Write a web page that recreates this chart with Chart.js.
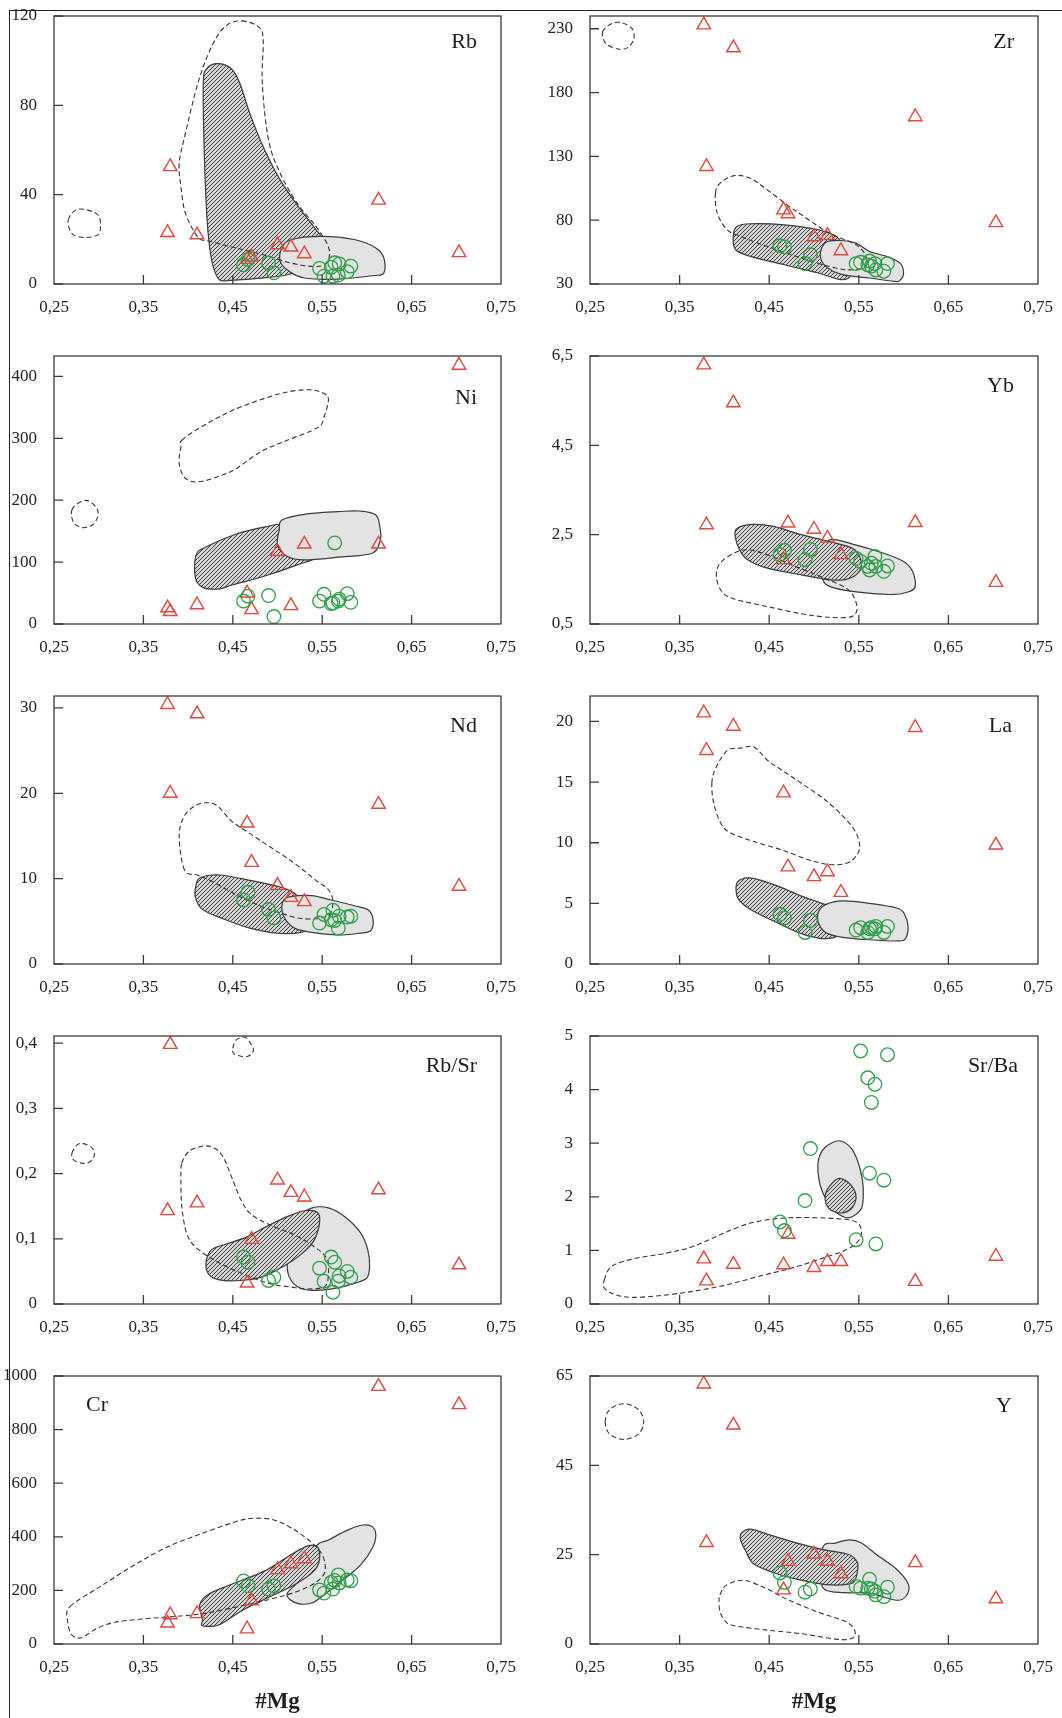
<!DOCTYPE html>
<html>
<head>
<meta charset="utf-8">
<script src="https://cdn.jsdelivr.net/npm/chart.js@4.4.1/dist/chart.umd.min.js"></script>
<style>
  html, body { margin: 0; padding: 0; background: #fff; }
  body { width: 1062px; height: 1718px; position: relative; overflow: hidden; }
  .rule-top { position: absolute; left: 9px; top: 10px; width: 1053px; height: 1px; background: #222; }
  .rule-left { position: absolute; left: 9px; top: 10px; width: 1px; height: 1708px; background: #222; }
  canvas { position: absolute; }
</style>
</head>
<body>
<div class="rule-top"></div>
<div class="rule-left"></div>
<script>
// #Mg axis, shared by every panel
const mgTicks = [0.25, 0.35, 0.45, 0.55, 0.65, 0.75];
const mgTickLabels = ['0,25', '0,35', '0,45', '0,55', '0,65', '0,75'];
const mgRed = [0.377, 0.380, 0.410, 0.466, 0.471, 0.500, 0.515, 0.530, 0.613, 0.703];
const mgGreen = [0.462, 0.467, 0.490, 0.496, 0.547, 0.552, 0.560, 0.562, 0.564, 0.568, 0.569, 0.578, 0.582];

// Rb
const rbTicks = [0, 40, 80, 120];
const rbTickLabels = ['0', '40', '80', '120'];
const rbRed = [23, 52.5, 22, 11, 12, 17.5, 16.5, 13.5, 37.5, 14];
const rbGreen = [8.6, 11, 9.4, 5, 7, 3.5, 7.5, 3.5, 9.5, 4, 9, 5.5, 8];
const rbDashed = [[0.460,117.8],[0.479,115.1],[0.484,109.1],[0.483,89.8],[0.490,64.4],[0.503,49.6],[0.522,36.2],[0.543,25.8],[0.556,17.6],[0.558,12.4],[0.553,8.6],[0.538,7.9],[0.515,9.4],[0.484,13.1],[0.454,16.1],[0.424,19.1],[0.411,21.0],[0.397,31.7],[0.392,43.6],[0.390,54.0],[0.397,67.5],[0.412,91.3],[0.428,107.7],[0.443,115.8]];
const rbSmall = [[0.266,28.7],[0.272,32.5],[0.283,33.5],[0.299,31.0],[0.302,25.8],[0.299,22.0],[0.285,20.8],[0.272,22.0],[0.267,25.0]];
const rbHatch = [[0.433,98.7],[0.448,96.5],[0.458,89.8],[0.469,76.4],[0.484,61.5],[0.503,46.6],[0.526,33.2],[0.543,24.3],[0.547,20.5],[0.530,9.4],[0.515,4.6],[0.484,2.7],[0.447,1.6],[0.435,1.9],[0.428,7.9],[0.424,16.8],[0.421,30.2],[0.418,60.0],[0.417,89.8],[0.421,96.5]];
const rbGray = [[0.515,19.8],[0.549,21.3],[0.587,19.8],[0.610,16.1],[0.619,11.6],[0.619,4.9],[0.606,3.7],[0.568,2.2],[0.530,2.7],[0.513,5.7],[0.503,10.1],[0.505,16.1]];

// Zr
const zrTicks = [30, 80, 130, 180, 230];
const zrTickLabels = ['30', '80', '130', '180', '230'];
const zrRed = [233, 122, 215, 88, 85, 67, 68, 56, 161, 78];
const zrGreen = [60, 59, 46, 53, 46, 47, 45, 48, 44, 46, 41, 40, 46];
const zrDashed = [[0.390,101.1],[0.395,108.9],[0.411,114.9],[0.429,112.8],[0.448,103.7],[0.475,89.4],[0.486,84.2],[0.517,69.9],[0.547,60.7],[0.558,51.6],[0.557,43.8],[0.543,41.2],[0.524,42.5],[0.486,50.3],[0.448,59.4],[0.418,67.3],[0.403,72.5],[0.392,85.5]];
const zrSmall = [[0.264,227.5],[0.274,234.0],[0.285,234.8],[0.297,230.1],[0.299,222.3],[0.293,215.7],[0.283,213.9],[0.268,218.3]];
const zrHatch = [[0.414,75.1],[0.429,77.2],[0.467,76.4],[0.505,72.5],[0.526,66.7],[0.536,54.2],[0.541,37.3],[0.530,33.4],[0.505,38.6],[0.467,45.1],[0.429,51.6],[0.412,57.4],[0.410,68.6]];
const zrGray = [[0.513,62.6],[0.530,64.1],[0.547,62.0],[0.562,55.5],[0.581,51.6],[0.596,46.4],[0.600,38.6],[0.596,32.9],[0.589,32.1],[0.562,34.7],[0.532,37.3],[0.513,43.8],[0.507,52.9]];

// Ni
const niTicks = [0, 100, 200, 300, 400];
const niTickLabels = ['0', '100', '200', '300', '400'];
const niRed = [26, 20, 31, 50, 23, 117, 29.5, 129, 129, 418];
const niGreen = [37, 45, 46, 12, 37, 48, 33, 34, 131, 37, 40, 49, 35];
const niDashed = [[0.393,296.9],[0.416,319.5],[0.454,347.9],[0.503,372.1],[0.534,378.5],[0.551,373.2],[0.557,362.4],[0.552,334.5],[0.545,317.3],[0.511,296.9],[0.481,278.1],[0.454,251.3],[0.435,238.9],[0.412,229.8],[0.397,235.2],[0.390,259.3],[0.392,286.2]];
const niSmall = [[0.270,184.2],[0.280,197.6],[0.289,198.7],[0.298,186.8],[0.299,173.4],[0.293,160.0],[0.282,155.7],[0.272,163.8]];
const niHatch = [[0.409,111.7],[0.421,125.1],[0.454,145.5],[0.488,157.3],[0.507,160.0],[0.530,135.8],[0.543,109.0],[0.522,95.6],[0.484,76.8],[0.450,63.4],[0.433,56.4],[0.416,59.6],[0.408,75.7]];
const niGray = [[0.505,168.1],[0.530,177.2],[0.568,181.5],[0.591,182.6],[0.610,176.1],[0.615,151.9],[0.615,135.8],[0.606,114.4],[0.568,107.9],[0.530,103.6],[0.511,109.0],[0.500,127.8],[0.502,151.9]];

// Yb
const ybTicks = [0.5, 2.5, 4.5, 6.5];
const ybTickLabels = ['0,5', '2,5', '4,5', '6,5'];
const ybRed = [6.3, 2.72, 5.45, 1.94, 2.76, 2.62, 2.42, 2.05, 2.77, 1.43];
const ybGreen = [2.05, 2.15, 1.94, 2.17, 1.97, 1.9, 1.79, 1.71, 1.86, 2.01, 1.79, 1.68, 1.8];
const ybDashed = [[0.391,1.56],[0.395,1.86],[0.411,2.09],[0.426,2.16],[0.448,2.05],[0.479,1.79],[0.509,1.55],[0.536,1.30],[0.545,1.08],[0.548,0.82],[0.541,0.66],[0.517,0.65],[0.486,0.73],[0.448,0.89],[0.411,1.06],[0.397,1.23]];
const ybHatch = [[0.414,2.64],[0.431,2.73],[0.456,2.68],[0.486,2.50],[0.524,2.31],[0.545,2.17],[0.553,1.86],[0.549,1.64],[0.536,1.50],[0.517,1.49],[0.486,1.60],[0.448,1.75],[0.426,1.94],[0.417,2.16],[0.412,2.46]];
const ybGray = [[0.517,2.38],[0.543,2.29],[0.577,2.09],[0.600,1.90],[0.610,1.68],[0.613,1.34],[0.604,1.21],[0.585,1.16],[0.543,1.23],[0.519,1.33],[0.510,1.49],[0.510,1.94]];

// Nd
const ndTicks = [0, 10, 20, 30];
const ndTickLabels = ['0', '10', '20', '30'];
const ndRed = [30.4, 20, 29.3, 16.5, 11.9, 9.2, 7.8, 7.3, 18.7, 9.1];
const ndGreen = [7.5, 8.4, 6.4, 5.4, 4.8, 5.8, 5.2, 6.3, 5.1, 4.2, 5.6, 5.5, 5.6];
const ndDashed = [[0.396,11.0],[0.390,14.9],[0.395,17.2],[0.407,18.5],[0.420,18.9],[0.433,18.5],[0.448,16.8],[0.466,15.5],[0.492,13.7],[0.519,11.8],[0.543,9.8],[0.557,8.7],[0.562,7.3],[0.558,5.8],[0.543,5.3],[0.522,5.4],[0.503,6.0],[0.481,6.8],[0.454,8.1],[0.428,9.6],[0.411,10.4]];
const ndHatch = [[0.412,10.0],[0.424,10.4],[0.439,10.4],[0.469,9.8],[0.500,9.1],[0.519,8.3],[0.530,6.7],[0.537,4.4],[0.526,3.7],[0.500,3.6],[0.469,4.2],[0.439,5.3],[0.416,6.4],[0.408,7.9],[0.409,9.3]];
const ndGray = [[0.515,7.9],[0.538,8.0],[0.560,7.5],[0.587,6.8],[0.602,6.3],[0.607,5.1],[0.604,3.9],[0.591,3.6],[0.568,3.4],[0.538,3.7],[0.519,4.2],[0.509,5.2],[0.505,6.3],[0.507,7.5]];

// La
const laTicks = [0, 5, 10, 15, 20];
const laTickLabels = ['0', '5', '10', '15', '20'];
const laRed = [20.7, 17.6, 19.6, 14.1, 8.0, 7.2, 7.6, 5.9, 19.5, 9.8];
const laGreen = [4.1, 3.8, 2.6, 3.6, 2.8, 3.0, 2.6, 2.9, 3.0, 2.9, 3.1, 2.6, 3.1];
const laDashed = [[0.386,14.9],[0.390,16.1],[0.403,17.6],[0.418,17.8],[0.433,17.9],[0.448,16.8],[0.464,16.0],[0.486,14.9],[0.513,13.5],[0.536,11.9],[0.547,10.8],[0.551,9.7],[0.547,8.9],[0.536,8.3],[0.517,8.2],[0.494,8.6],[0.464,9.4],[0.433,10.1],[0.407,10.8],[0.396,11.6],[0.388,13.3]];
const laHatch = [[0.415,6.8],[0.426,7.1],[0.441,6.9],[0.464,6.3],[0.486,5.6],[0.509,5.0],[0.524,4.5],[0.530,3.1],[0.526,2.3],[0.509,2.1],[0.486,2.5],[0.456,3.5],[0.429,4.5],[0.416,5.3],[0.413,6.1]];
const laGray = [[0.513,4.9],[0.532,5.2],[0.562,5.0],[0.593,4.6],[0.601,4.1],[0.605,3.1],[0.602,2.1],[0.593,1.9],[0.562,2.0],[0.532,2.2],[0.513,2.6],[0.505,3.4],[0.505,4.3]];

// Rb/Sr
const rbsrTicks = [0, 0.1, 0.2, 0.3, 0.4];
const rbsrTickLabels = ['0', '0,1', '0,2', '0,3', '0,4'];
const rbsrRed = [0.143, 0.398, 0.155, 0.032, 0.099, 0.19, 0.171, 0.164, 0.175, 0.06];
const rbsrGreen = [0.072, 0.064, 0.036, 0.041, 0.055, 0.035, 0.072, 0.018, 0.064, 0.035, 0.043, 0.05, 0.041];
const rbsrDashed = [[0.393,0.216],[0.401,0.234],[0.416,0.242],[0.428,0.240],[0.439,0.226],[0.450,0.190],[0.460,0.157],[0.471,0.137],[0.492,0.121],[0.519,0.106],[0.541,0.088],[0.555,0.070],[0.557,0.047],[0.553,0.027],[0.534,0.023],[0.515,0.026],[0.492,0.031],[0.469,0.042],[0.439,0.060],[0.412,0.083],[0.399,0.106],[0.393,0.149],[0.392,0.190]];
const rbsrSmallA = [[0.270,0.231],[0.276,0.244],[0.283,0.246],[0.293,0.239],[0.295,0.227],[0.289,0.217],[0.281,0.216],[0.272,0.221]];
const rbsrSmallB = [[0.450,0.392],[0.454,0.405],[0.464,0.409],[0.471,0.397],[0.473,0.388],[0.467,0.380],[0.459,0.380],[0.451,0.384]];
const rbsrHatch = [[0.426,0.083],[0.443,0.092],[0.466,0.103],[0.488,0.119],[0.511,0.134],[0.530,0.143],[0.545,0.140],[0.547,0.124],[0.541,0.098],[0.528,0.078],[0.507,0.058],[0.484,0.042],[0.458,0.036],[0.435,0.037],[0.423,0.046],[0.420,0.063]];
const rbsrGray = [[0.522,0.129],[0.538,0.147],[0.558,0.147],[0.577,0.132],[0.593,0.109],[0.601,0.083],[0.603,0.058],[0.600,0.040],[0.587,0.032],[0.564,0.024],[0.538,0.021],[0.522,0.027],[0.513,0.042],[0.511,0.063],[0.515,0.088]];

// Sr/Ba
const srbaTicks = [0, 1, 2, 3, 4, 5];
const srbaTickLabels = ['0', '1', '2', '3', '4', '5'];
const srbaRed = [0.84, 0.43, 0.74, 0.73, 1.3, 0.68, 0.79, 0.79, 0.42, 0.89];
const srbaGreen = [1.53, 1.37, 1.93, 2.9, 1.2, 4.72, 4.22, 2.44, 3.76, 4.1, 1.12, 2.31, 4.65];
const srbaDashed = [[0.266,0.453],[0.274,0.701],[0.297,0.838],[0.335,0.949],[0.365,1.073],[0.395,1.290],[0.426,1.495],[0.456,1.588],[0.486,1.613],[0.524,1.594],[0.547,1.532],[0.553,1.352],[0.549,1.166],[0.536,1.011],[0.513,0.875],[0.479,0.689],[0.441,0.527],[0.403,0.360],[0.365,0.236],[0.327,0.155],[0.297,0.124],[0.278,0.174],[0.266,0.298]];
const srbaGray = [[0.505,2.686],[0.512,2.916],[0.528,3.046],[0.541,2.916],[0.549,2.655],[0.554,2.314],[0.555,2.035],[0.553,1.787],[0.543,1.632],[0.534,1.619],[0.522,1.756],[0.510,2.066],[0.505,2.376]];
const srbaHatch = [[0.513,2.066],[0.520,2.252],[0.528,2.345],[0.538,2.271],[0.545,2.128],[0.547,1.973],[0.543,1.805],[0.534,1.706],[0.522,1.725],[0.514,1.849]];

// Cr
const crTicks = [0, 200, 400, 600, 800, 1000];
const crTickLabels = ['0', '200', '400', '600', '800', '1000'];
const crRed = [78, 109, 113, 56, 161, 277, 299, 318, 961, 893];
const crGreen = [235, 217, 205, 217, 202, 190, 230, 205, 237, 258, 228, 239, 236];
const crDashed = [[0.268,140],[0.302,215],[0.340,295],[0.378,364],[0.416,413],[0.454,457],[0.473,469],[0.496,463],[0.519,426],[0.541,370],[0.551,326],[0.553,270],[0.543,230],[0.522,196],[0.492,167],[0.454,138],[0.416,113],[0.386,103],[0.348,93],[0.318,81],[0.299,60],[0.285,31],[0.277,22],[0.269,38],[0.265,91]];
const crHatch = [[0.416,91],[0.413,146],[0.422,184],[0.447,221],[0.484,270],[0.515,333],[0.534,366],[0.545,361],[0.547,314],[0.540,270],[0.519,221],[0.492,177],[0.462,128],[0.435,72],[0.422,66],[0.415,70]];
const crGray = [[0.511,190],[0.526,246],[0.543,364],[0.557,388],[0.579,426],[0.596,444],[0.606,438],[0.610,407],[0.606,357],[0.593,295],[0.576,246],[0.557,196],[0.540,155],[0.526,149],[0.515,163]];

// Y (bottom tick sits at 5 on the value scale)
const yTicks = [5, 25, 45, 65];
const yTickLabels = ['0', '25', '45', '65'];
const yRed = [63.2, 27.7, 54, 17.1, 23.5, 25.1, 23.5, 20.7, 23.2, 15.1];
const yGreen = [20.9, 18.8, 16.6, 17.3, 17.9, 17.5, 17.5, 19.5, 17.3, 16.8, 16.0, 15.6, 17.7];
const yDashed = [[0.395,16.0],[0.401,18.0],[0.414,19.1],[0.426,19.1],[0.448,17.3],[0.471,14.9],[0.505,12.1],[0.532,10.3],[0.543,8.9],[0.546,7.1],[0.540,6.1],[0.524,6.1],[0.486,7.3],[0.448,8.1],[0.411,9.1],[0.401,10.1],[0.395,12.3],[0.394,14.9]];
const ySmall = [[0.267,54.7],[0.272,57.5],[0.288,58.8],[0.304,57.5],[0.310,54.7],[0.304,52.0],[0.288,50.8],[0.272,52.0]];
const yHatch = [[0.419,29.8],[0.429,30.7],[0.448,29.6],[0.479,27.7],[0.509,26.2],[0.536,25.2],[0.544,24.4],[0.549,22.7],[0.546,19.4],[0.538,18.4],[0.513,18.3],[0.483,19.4],[0.456,20.9],[0.433,22.9],[0.424,25.7],[0.418,28.3]];
const yGray = [[0.510,26.7],[0.524,27.6],[0.540,28.3],[0.553,27.6],[0.570,25.0],[0.589,22.3],[0.600,20.1],[0.606,17.9],[0.603,15.8],[0.595,14.8],[0.581,15.3],[0.562,16.4],[0.532,16.5],[0.513,17.1],[0.508,19.4]];

const RED = '#e2463c';
const GREEN = '#2f9f4a';
const INK = '#222';
const SERIF = "'Liberation Serif', 'Times New Roman', serif";

// panel table: fills are listed bottom to top, dashed outlines go over them
const panels = [
  { name: 'Rb', col: 0, row: 0, yMin: 0, yMax: 120, ticks: rbTicks, labels: rbTickLabels, red: rbRed, green: rbGreen,
    fills: [['hatch', rbHatch], ['gray', rbGray]], dashed: [rbDashed, rbSmall], nameDx: -24, nameDy: 32 },
  { name: 'Zr', col: 1, row: 0, yMin: 30, yMax: 240, ticks: zrTicks, labels: zrTickLabels, red: zrRed, green: zrGreen,
    fills: [['hatch', zrHatch], ['gray', zrGray]], dashed: [zrDashed, zrSmall], nameDx: -24, nameDy: 32 },
  { name: 'Ni', col: 0, row: 1, yMin: 0, yMax: 433, ticks: niTicks, labels: niTickLabels, red: niRed, green: niGreen,
    fills: [['hatch', niHatch], ['gray', niGray]], dashed: [niDashed, niSmall], nameDx: -24, nameDy: 48 },
  { name: 'Yb', col: 1, row: 1, yMin: 0.5, yMax: 6.5, ticks: ybTicks, labels: ybTickLabels, red: ybRed, green: ybGreen,
    fills: [['gray', ybGray], ['hatch', ybHatch]], dashed: [ybDashed], nameDx: -24, nameDy: 36 },
  { name: 'Nd', col: 0, row: 2, yMin: 0, yMax: 31.4, ticks: ndTicks, labels: ndTickLabels, red: ndRed, green: ndGreen,
    fills: [['hatch', ndHatch], ['gray', ndGray]], dashed: [ndDashed], nameDx: -24, nameDy: 36 },
  { name: 'La', col: 1, row: 2, yMin: 0, yMax: 22.1, ticks: laTicks, labels: laTickLabels, red: laRed, green: laGreen,
    fills: [['hatch', laHatch], ['gray', laGray]], dashed: [laDashed], nameDx: -26, nameDy: 36 },
  { name: 'Rb/Sr', col: 0, row: 3, yMin: 0, yMax: 0.411, ticks: rbsrTicks, labels: rbsrTickLabels, red: rbsrRed, green: rbsrGreen,
    fills: [['gray', rbsrGray], ['hatch', rbsrHatch]], dashed: [rbsrDashed, rbsrSmallA, rbsrSmallB], nameDx: -24, nameDy: 36 },
  { name: 'Sr/Ba', col: 1, row: 3, yMin: 0, yMax: 5, ticks: srbaTicks, labels: srbaTickLabels, red: srbaRed, green: srbaGreen,
    fills: [['gray', srbaGray], ['hatch', srbaHatch]], dashed: [srbaDashed], nameDx: -20, nameDy: 36 },
  { name: 'Cr', col: 0, row: 4, yMin: 0, yMax: 1000, ticks: crTicks, labels: crTickLabels, red: crRed, green: crGreen,
    fills: [['gray', crGray], ['hatch', crHatch]], dashed: [crDashed], nameDx: 32, nameDy: 35, nameLeft: true },
  { name: 'Y', col: 1, row: 4, yMin: 5, yMax: 65, ticks: yTicks, labels: yTickLabels, red: yRed, green: yGreen,
    fills: [['gray', yGray], ['hatch', yHatch]], dashed: [yDashed, ySmall], nameDx: -26, nameDy: 36 }
];

function makeHatch(ctx) {
  const t = document.createElement('canvas');
  t.width = 4; t.height = 4;
  const g = t.getContext('2d');
  g.fillStyle = '#d6d6d6';
  g.fillRect(0, 0, 4, 4);
  g.strokeStyle = '#3c3c3c';
  g.lineWidth = 1;
  g.beginPath();
  g.moveTo(0, 4); g.lineTo(4, 0);
  g.moveTo(-1, 1); g.lineTo(1, -1);
  g.moveTo(3, 5); g.lineTo(5, 3);
  g.stroke();
  return ctx.createPattern(t, 'repeat');
}

// closed smooth outline through the listed points (Catmull-Rom as beziers)
function tracePath(ctx, pts, xs, ys) {
  const p = pts.map(([a, b]) => [xs.getPixelForValue(a), ys.getPixelForValue(b)]);
  const n = p.length;
  ctx.beginPath();
  ctx.moveTo(p[0][0], p[0][1]);
  for (let i = 0; i < n; i++) {
    const p0 = p[(i - 1 + n) % n], p1 = p[i], p2 = p[(i + 1) % n], p3 = p[(i + 2) % n];
    ctx.bezierCurveTo(
      p1[0] + (p2[0] - p0[0]) / 6, p1[1] + (p2[1] - p0[1]) / 6,
      p2[0] - (p3[0] - p1[0]) / 6, p2[1] - (p3[1] - p1[1]) / 6,
      p2[0], p2[1]);
  }
  ctx.closePath();
}

function panelPlugin(p) {
  return {
    id: 'panelDecor',
    beforeDatasetsDraw(chart) {
      const { ctx, chartArea: a, scales: { x, y } } = chart;
      ctx.save();
      ctx.beginPath();
      ctx.rect(a.left, a.top, a.right - a.left, a.bottom - a.top);
      ctx.clip();
      const hatch = makeHatch(ctx);
      p.fills.forEach(([kind, pts]) => {
        tracePath(ctx, pts, x, y);
        ctx.fillStyle = kind === 'hatch' ? hatch : '#e3e3e3';
        ctx.fill();
        ctx.lineWidth = 1.2;
        ctx.strokeStyle = '#3a3a3a';
        ctx.stroke();
      });
      ctx.setLineDash([5, 3]);
      ctx.lineWidth = 1.1;
      ctx.strokeStyle = '#333';
      p.dashed.forEach(pts => {
        tracePath(ctx, pts, x, y);
        ctx.stroke();
      });
      ctx.restore();
    },
    afterDraw(chart) {
      const { ctx, chartArea: a, scales: { x, y } } = chart;
      ctx.save();
      ctx.strokeStyle = '#3a3a3a';
      ctx.lineWidth = 1.3;
      ctx.strokeRect(a.left, a.top, a.right - a.left, a.bottom - a.top);
      // inward tick marks
      ctx.beginPath();
      mgTicks.slice(1, -1).forEach(v => {
        const px = x.getPixelForValue(v);
        ctx.moveTo(px, a.bottom); ctx.lineTo(px, a.bottom - 9);
      });
      p.ticks.forEach(v => {
        const py = y.getPixelForValue(v);
        ctx.moveTo(a.left, py); ctx.lineTo(a.left + 9, py);
      });
      ctx.stroke();
      ctx.fillStyle = '#1e1e1e';
      ctx.font = '22px ' + SERIF;
      ctx.textBaseline = 'alphabetic';
      if (p.nameLeft) {
        ctx.textAlign = 'left';
        ctx.fillText(p.name, a.left + p.nameDx, a.top + p.nameDy);
      } else {
        ctx.textAlign = 'right';
        ctx.fillText(p.name, a.right + p.nameDx, a.top + p.nameDy);
      }
      if (p.row === 4) {
        ctx.textAlign = 'center';
        ctx.font = 'bold 23px ' + SERIF;
        ctx.fillText('#Mg', (a.left + a.right) / 2, a.bottom + 64);
      }
      ctx.restore();
    }
  };
}

Chart.defaults.font.family = SERIF;
Chart.defaults.color = INK;

panels.forEach(p => {
  const canvas = document.createElement('canvas');
  const left = p.col === 0 ? 0 : 531;
  const w = p.col === 0 ? 540 : 531;
  const top = 340 * p.row + 4;
  const h = p.row === 4 ? 1718 - top : 330;
  canvas.width = w;
  canvas.height = h;
  canvas.style.left = left + 'px';
  canvas.style.top = top + 'px';
  canvas.style.width = w + 'px';
  canvas.style.height = h + 'px';
  document.body.appendChild(canvas);

  new Chart(canvas, {
    type: 'scatter',
    data: {
      datasets: [
        {
          data: p.green.map((v, i) => ({ x: mgGreen[i], y: v })),
          pointStyle: 'circle',
          pointRadius: 6.8,
          borderColor: GREEN,
          backgroundColor: 'rgba(0,0,0,0)',
          borderWidth: 1.3
        },
        {
          data: p.red.map((v, i) => ({ x: mgRed[i], y: v })),
          pointStyle: 'triangle',
          pointRadius: 7.8,
          borderColor: RED,
          backgroundColor: 'rgba(0,0,0,0)',
          borderWidth: 1.4
        }
      ]
    },
    options: {
      responsive: false,
      animation: false,
      devicePixelRatio: 1,
      layout: { padding: { left: 0, top: 12, right: p.col === 0 ? 39 : 24, bottom: h - 330 } },
      plugins: { legend: { display: false }, tooltip: { enabled: false } },
      scales: {
        x: {
          type: 'linear',
          min: 0.25,
          max: 0.75,
          grid: { display: false },
          border: { display: false },
          ticks: {
            padding: 5,
            autoSkip: false,
            maxRotation: 0,
            font: { size: 17 },
            color: INK,
            callback: (v, i) => mgTickLabels[i]
          },
          afterBuildTicks: s => { s.ticks = mgTicks.map(v => ({ value: v })); },
          afterFit: s => { s.height = 50; s.paddingLeft = 0; s.paddingRight = 0; }
        },
        y: {
          type: 'linear',
          min: p.yMin,
          max: p.yMax,
          grid: { display: false },
          border: { display: false },
          ticks: {
            padding: 9,
            autoSkip: false,
            font: { size: 17 },
            color: INK,
            callback: (v, i) => p.labels[i]
          },
          afterBuildTicks: s => { s.ticks = p.ticks.map(v => ({ value: v })); },
          afterFit: s => { s.width = p.col === 0 ? 54 : 59; s.paddingTop = 0; s.paddingBottom = 0; }
        }
      }
    },
    plugins: [panelPlugin(p)]
  });
});
</script>
</body>
</html>
